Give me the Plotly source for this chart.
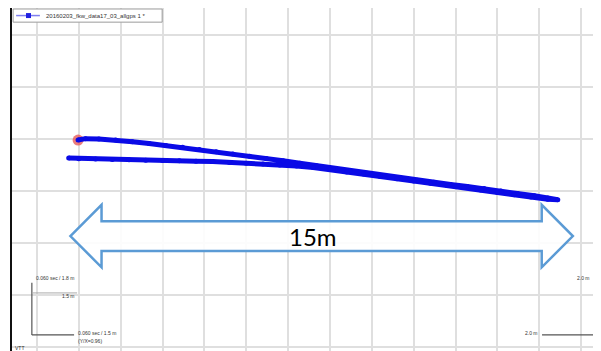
import plotly.graph_objects as go

# ---- data (metres) ----
track_x = [-7.52, -7.3, -6.9, -6.4, -5.9, -5.4, -4.9, -4.4, -3.9, -3.4, -2.9, -2.4, -1.9, -1.4, -0.9, -0.4,
           0.1, 0.6, 1.1, 1.6, 2.1, 2.6, 3.1, 3.6, 4.1, 4.6, 5.1, 5.6, 6.1, 6.5, 6.8,
           6.5, 6.0, 5.5, 5.0, 4.5, 4.0, 3.5, 3.0, 2.5, 2.0, 1.5, 1.0, 0.5, 0.0, -0.5,
           -1.0, -1.5, -2.0, -2.5, -3.0, -3.5, -4.0, -4.5, -5.0, -5.5, -6.0, -6.5, -7.0, -7.5, -7.8]
track_y = [1.47, 1.51, 1.50, 1.47, 1.42, 1.37, 1.31, 1.26, 1.20, 1.13, 1.07, 1.00, 0.94, 0.87, 0.80, 0.73,
           0.65, 0.58, 0.51, 0.44, 0.38, 0.31, 0.25, 0.19, 0.13, 0.07, 0.00, -0.07, -0.14, -0.20, -0.25,
           -0.24, -0.17, -0.11, -0.04, 0.03, 0.10, 0.16, 0.22, 0.29, 0.35, 0.42, 0.49, 0.55, 0.62, 0.68,
           0.72, 0.75, 0.78, 0.80, 0.82, 0.85, 0.86, 0.87, 0.88, 0.89, 0.90, 0.91, 0.92, 0.93, 0.95]
series_name = "20160203_fkw_data17_03_allgps 1 *"

arrow_start = -7.75     # m
arrow_length = 15.0     # m
arrow_label = "15m"

x_range = [-9.493, 8.090]
y_range = [-4.615, 5.278]

fig = go.Figure()

# start marker (red)
fig.add_trace(go.Scatter(x=[track_x[0]], y=[track_y[0]], mode="markers",
                         marker=dict(color="rgba(230,90,90,0.8)", size=11),
                         showlegend=False, hoverinfo="skip"))
# trajectory
fig.add_trace(go.Scatter(x=track_x, y=track_y, mode="lines+markers", name=series_name,
                         line=dict(color="#0a0ae6", width=5),
                         marker=dict(color="#0a0ae6", size=5),
                         showlegend=False))

# manual legend box (top-left)
fig.add_shape(type="rect", xref="x", yref="y", x0=-9.46, x1=-5.01, y0=5.25, y1=4.87,
              line=dict(color="#9a9a9a", width=1), fillcolor="white", layer="between")
fig.add_shape(type="line", xref="x", yref="y", x0=-9.37, x1=-8.66, y0=5.06, y1=5.06,
              line=dict(color="#7f7ff0", width=1.5), layer="between")
fig.add_trace(go.Scatter(x=[-9.00], y=[5.06], mode="markers", showlegend=False, hoverinfo="skip",
                         marker=dict(color="#2020e0", size=5, symbol="square")))
fig.add_annotation(x=-8.54, y=5.06, text=series_name, showarrow=False, xanchor="left", yanchor="middle",
                   font=dict(family="Liberation Sans, Arial", size=6, color="#333"), xref="x", yref="y")

# double arrow (outline)
x0 = arrow_start
x1 = arrow_start + arrow_length
hl = 0.93   # head length
yc = -1.30
sh = 0.43   # shaft half height
hh = 0.90   # head half height
path = (f"M {x0},{yc} L {x0+hl},{yc+hh} L {x0+hl},{yc+sh} L {x1-hl},{yc+sh} L {x1-hl},{yc+hh} "
        f"L {x1},{yc} L {x1-hl},{yc-hh} L {x1-hl},{yc-sh} L {x0+hl},{yc-sh} L {x0+hl},{yc-hh} Z")
fig.add_shape(type="path", path=path, xref="x", yref="y",
              line=dict(color="#5b9bd5", width=2.5), fillcolor="rgba(255,255,255,0.9)")
fig.add_annotation(x=(x0 + x1) / 2 - 0.25, y=yc, text=arrow_label, showarrow=False,
                   font=dict(family="Lato, Open Sans, sans-serif", size=24, color="black"),
                   xref="x", yref="y")

# scale indicators
dark = "#555555"
fig.add_shape(type="line", x0=-8.90, x1=-8.90, y0=-2.65, y1=-4.15, line=dict(color=dark, width=1.2))
fig.add_shape(type="line", x0=-8.90, x1=-7.64, y0=-4.15, y1=-4.15, line=dict(color=dark, width=1.2))
fig.add_shape(type="line", x0=-8.90, x1=-7.55, y0=-2.94, y1=-2.94, line=dict(color="#aaaaaa", width=1))
fig.add_shape(type="line", x0=7.94, x1=7.94, y0=-2.57, y1=-4.15, line=dict(color="#444444", width=1.5))
fig.add_shape(type="line", x0=6.33, x1=7.94, y0=-4.15, y1=-4.15, line=dict(color=dark, width=1.2))

small = dict(family="Liberation Sans, Arial", size=5, color="#333333")
notes = [
    (-8.84, -2.51, "0.060 sec / 1.8 m", "left"),
    (-7.55, -3.03, "1.5 m", "right"),
    (-7.58, -4.10, "0.060 sec / 1.5 m", "left"),
    (-7.58, -4.33, "(Y/X=0.96)", "left"),
    (7.82, -2.51, "2.0 m", "right"),
    (6.27, -4.10, "2.0 m", "right"),
    (-9.46, -4.52, "VTT", "left"),
]
for nx, ny, nt, anc in notes:
    fig.add_annotation(x=nx, y=ny, text=nt, showarrow=False, xanchor=anc, yanchor="middle",
                       font=small, xref="x", yref="y")

# center vertical gridline (darker)
fig.add_shape(type="line", x0=0, x1=0, y0=0, y1=1, xref="x", yref="paper",
              line=dict(color="#c4c4c4", width=1.5), layer="below")

fig.update_layout(
    width=593, height=343,
    margin=dict(l=4, r=0, t=0, b=0),
    paper_bgcolor="white", plot_bgcolor="white",
    showlegend=False,
    xaxis=dict(range=x_range, tick0=0, dtick=1.25, showgrid=True, gridcolor="#dfdfdf", gridwidth=2,
               zeroline=False, showticklabels=False, ticks="", side="top",
               showline=True, linecolor="#333333", linewidth=2, fixedrange=True),
    yaxis=dict(range=y_range, tick0=0, dtick=1.5, showgrid=True, gridcolor="#dfdfdf", gridwidth=2,
               zeroline=False, showticklabels=False, ticks="",
               showline=True, linecolor="#111111", linewidth=2, fixedrange=True),
)

fig.write_html("out.html")
